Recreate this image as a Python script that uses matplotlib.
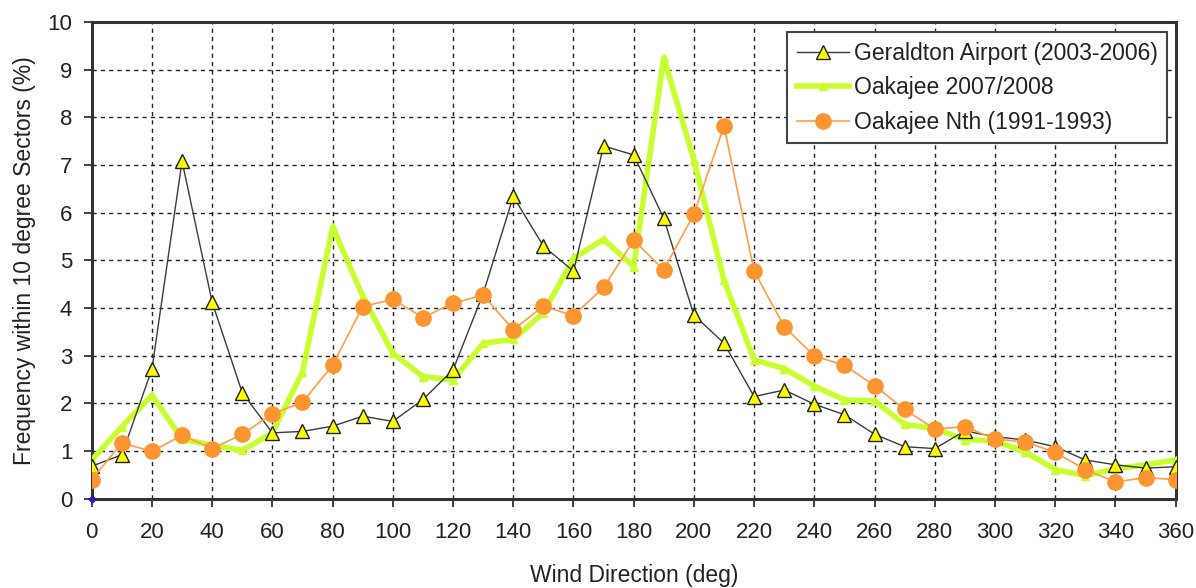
import numpy as np
import matplotlib
matplotlib.use("Agg")
import matplotlib.pyplot as plt

plt.rcParams['font.family'] = ['Liberation Sans', 'DejaVu Sans']

# wind direction sectors (deg)
direction = np.arange(0, 361, 10)

geraldton = [0.68, 0.92, 2.72, 7.08, 4.12, 2.22, 1.38, 1.41, 1.52, 1.73,
             1.62, 2.08, 2.70, 4.30, 6.34, 5.30, 4.77, 7.40, 7.21, 5.88,
             3.85, 3.26, 2.14, 2.28, 1.98, 1.76, 1.35, 1.09, 1.05, 1.42,
             1.30, 1.23, 1.09, 0.81, 0.71, 0.64, 0.67]

oakajee_0708 = [0.81, 1.51, 2.17, 1.25, 1.12, 1.01, 1.38, 2.66, 5.70, 4.25,
                3.05, 2.56, 2.49, 3.26, 3.34, 3.90, 5.04, 5.44, 4.87, 9.25,
                7.10, 4.58, 2.91, 2.73, 2.36, 2.07, 2.05, 1.56, 1.47, 1.24,
                1.21, 0.98, 0.61, 0.48, 0.63, 0.71, 0.81]

oakajee_nth = [0.40, 1.17, 0.99, 1.33, 1.05, 1.35, 1.78, 2.02, 2.80, 4.03,
               4.18, 3.80, 4.10, 4.27, 3.54, 4.04, 3.84, 4.43, 5.42, 4.80,
               5.97, 7.82, 4.77, 3.61, 2.99, 2.80, 2.37, 1.87, 1.46, 1.51,
               1.25, 1.19, 0.97, 0.61, 0.35, 0.44, 0.40]

fig = plt.figure(figsize=(11.96, 5.88), dpi=100)
ax = fig.add_axes([0.0767, 0.152, 0.9063, 0.8106])

ax.plot(direction, oakajee_0708, color='#C8FF2E', lw=4.0, marker='^',
        ms=6, mfc='#C8FF2E', mec='#C8FF2E', label='Oakajee 2007/2008', zorder=3)
ax.plot(direction, geraldton, color='#3a3a3a', lw=1.0, marker='^',
        ms=10, mfc='#FFFF00', mec='#202020', mew=1.0,
        label='Geraldton Airport (2003-2006)', zorder=4)
ax.plot(direction, oakajee_nth, color='#FF9F4A', lw=1.2, marker='o',
        ms=11, mfc='#FF9530', mec='#FF9530', label='Oakajee Nth (1991-1993)', zorder=5)
# origin point
ax.plot([0], [0], marker='D', ms=3.5, color='#2020B0', zorder=6, clip_on=False)

ax.set_xlim(0, 360)
ax.set_ylim(0, 10)
ax.set_xticks(np.arange(0, 361, 20))
ax.set_yticks(np.arange(0, 11, 1))
ax.grid(True, color='#222222', ls=(0, (3, 3)), lw=1.0)
ax.tick_params(labelsize=16, colors='#222222', length=6, width=1.2)
ax.tick_params(axis='x', pad=11)
ax.tick_params(axis='y', pad=8)
for s in ax.spines.values():
    s.set_linewidth(2.2)
    s.set_color('#333333')

ax.set_xlabel('Wind Direction (deg)', fontsize=16.5, color='#222222', labelpad=15)
ax.set_ylabel('Frequency within 10 degree Sectors (%)', fontsize=16.5,
              color='#222222', labelpad=8)

h, l = ax.get_legend_handles_labels()
order = [1, 0, 2]
leg = ax.legend([h[i] for i in order], [l[i] for i in order], loc='upper right',
                bbox_to_anchor=(0.992, 0.978), fontsize=16.5, fancybox=False,
                framealpha=1, edgecolor='#444444', handlelength=2.3,
                handletextpad=0.2, borderpad=0.4, labelspacing=0.5,
                borderaxespad=0)
leg.get_frame().set_linewidth(1.5)
for t in leg.get_texts():
    t.set_color('#222222')

fig.savefig('out.png', dpi=100)
